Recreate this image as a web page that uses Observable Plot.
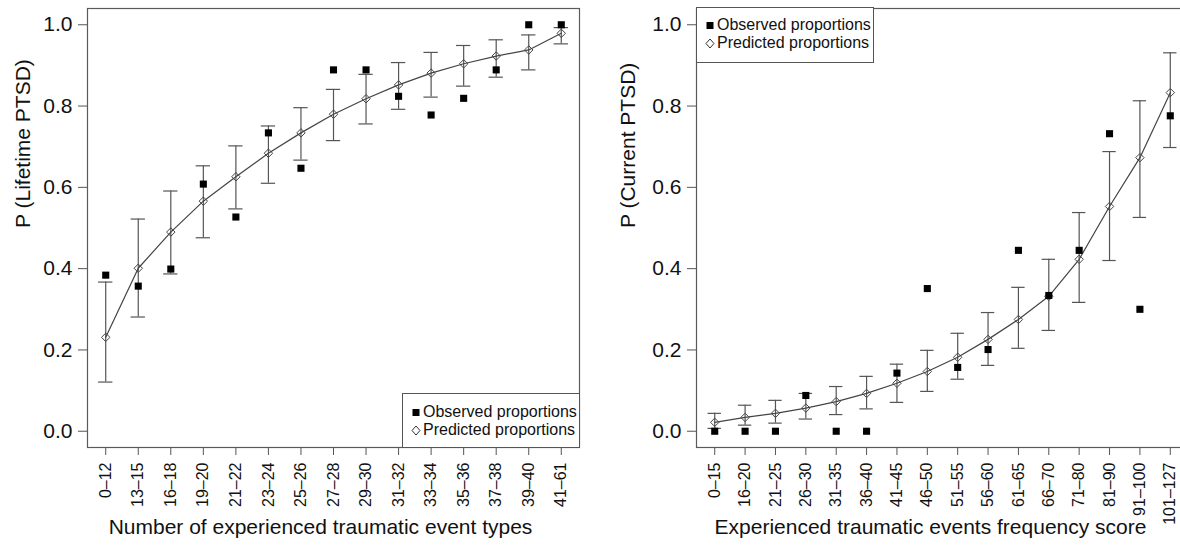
<!DOCTYPE html>
<html><head><meta charset="utf-8">
<script src="https://cdn.jsdelivr.net/npm/d3@7"></script>
<script src="https://cdn.jsdelivr.net/npm/@observablehq/plot@0.6"></script>
<style>
html,body{margin:0;padding:0;background:#fff;overflow:hidden;}
#wrap{position:relative;width:1180px;height:547px;overflow:hidden;font-family:"Liberation Sans",Arial,sans-serif;color:#111;}
.panel{position:absolute;top:0;}
.legend{position:absolute;border:1px solid #555;background:#fff;font-size:16px;box-sizing:border-box;}
.legend .row{position:absolute;left:0;height:18px;line-height:18px;white-space:nowrap;}
.legend svg{position:absolute;top:0;}
.legend span{position:absolute;top:0;}
</style></head><body><div id="wrap"></div>
<script>
// ---- Left panel: lifetime PTSD ----
const lifetimeCategories = ["0–12","13–15","16–18","19–20","21–22","23–24","25–26","27–28","29–30","31–32","33–34","35–36","37–38","39–40","41–61"];
const lifetimePred = [0.231,0.401,0.490,0.566,0.626,0.684,0.734,0.780,0.818,0.852,0.881,0.904,0.923,0.938,0.979];
const lifetimeLo   = [0.121,0.281,0.387,0.476,0.547,0.610,0.667,0.715,0.756,0.792,0.822,0.849,0.871,0.889,0.953];
const lifetimeHi   = [0.367,0.522,0.591,0.653,0.702,0.751,0.796,0.841,0.878,0.907,0.932,0.949,0.963,0.975,0.993];
const lifetimeObs  = [0.384,0.357,0.399,0.608,0.527,0.734,0.647,0.889,0.889,0.824,0.778,0.819,0.889,1.000,1.000];

// ---- Right panel: current PTSD ----
const currentCategories = ["0–15","16–20","21–25","26–30","31–35","36–40","41–45","46–50","51–55","56–60","61–65","66–70","71–80","81–90","91–100","101–127"];
const currentPred = [0.022,0.034,0.044,0.057,0.073,0.093,0.118,0.147,0.182,0.226,0.275,0.332,0.423,0.553,0.673,0.833];
const currentLo   = [0.007,0.015,0.020,0.030,0.041,0.055,0.071,0.098,0.128,0.162,0.204,0.248,0.317,0.420,0.526,0.698];
const currentHi   = [0.044,0.064,0.076,0.093,0.110,0.135,0.165,0.199,0.241,0.292,0.354,0.423,0.538,0.688,0.813,0.931];
const currentObs  = [0.000,0.000,0.000,0.088,0.000,0.000,0.143,0.351,0.157,0.201,0.445,0.334,0.445,0.732,0.300,0.776];

const yTicks = [0, 0.2, 0.4, 0.6, 0.8, 1.0];
const legendLabels = ["Observed proportions", "Predicted proportions"];

function panel({cats, pred, lo, hi, obs, width, marginLeft, marginRight, yLabel, xLabel, yLabelDx, xLabelDx}) {
  const n = cats.length;
  const ext = 0.04 * (n - 1);
  const rows = cats.map((c, k) => ({i: k + 1, c, pred: pred[k], lo: lo[k], hi: hi[k], obs: obs[k]}));
  const cap = 0.22;
  return Plot.plot({
    width, height: 547, marginLeft, marginRight, marginTop: 8, marginBottom: 100,
    style: {fontFamily: '"Liberation Sans", Arial, sans-serif', background: "white", color: "#111", overflow: "visible"},
    x: {type: "linear", domain: [1 - ext, n + ext]},
    y: {domain: [-0.04, 1.04]},
    marks: [
      Plot.frame({stroke: "#5a5a5a", strokeWidth: 1.2}),
      Plot.ruleX(rows, {x: "i", y1: "lo", y2: "hi", stroke: "#555", strokeWidth: 1.2}),
      Plot.ruleY(rows, {y: "hi", x1: d => d.i - cap, x2: d => d.i + cap, stroke: "#555", strokeWidth: 1.2}),
      Plot.ruleY(rows, {y: "lo", x1: d => d.i - cap, x2: d => d.i + cap, stroke: "#555", strokeWidth: 1.2}),
      Plot.line(rows, {x: "i", y: "pred", stroke: "#444", strokeWidth: 1.2}),
      Plot.dot(rows, {x: "i", y: "pred", symbol: "diamond2", r: 3.8, stroke: "#444", strokeWidth: 1, fill: "none"}),
      Plot.dot(rows, {x: "i", y: "obs", symbol: "square", r: 4, fill: "#000", stroke: "none"}),
      Plot.axisX({ticks: d3.range(1, n + 1), tickFormat: i => cats[i - 1], tickRotate: -90, tickSize: 8, tickPadding: 7,
        label: null, fontSize: 16, stroke: "#555", fill: "#111"}),
      Plot.axisY({ticks: yTicks, tickFormat: d3.format(".1f"), tickSize: 9, tickPadding: 6, label: null,
        fontSize: 21, stroke: "#555", fill: "#111"}),
      Plot.text([xLabel], {text: d => d, frameAnchor: "bottom", dy: 86, dx: xLabelDx, fontSize: 21, fill: "#111"}),
      Plot.text([yLabel], {text: d => d, frameAnchor: "left", rotate: -90, dx: yLabelDx, fontSize: 21, fill: "#111"})
    ]
  });
}

const wrap = document.getElementById("wrap");

const left = panel({cats: lifetimeCategories, pred: lifetimePred, lo: lifetimeLo, hi: lifetimeHi, obs: lifetimeObs,
  width: 590, marginLeft: 87, marginRight: 11, yLabel: "P (Lifetime PTSD)", xLabel: "Number of experienced traumatic event types",
  yLabelDx: -64, xLabelDx: -13});
left.classList.add("panel"); left.style.left = "0px";
wrap.appendChild(left);

const right = panel({cats: currentCategories, pred: currentPred, lo: currentLo, hi: currentHi, obs: currentObs,
  width: 610, marginLeft: 106, marginRight: 12, yLabel: "P (Current PTSD)", xLabel: "Experienced traumatic events frequency score",
  yLabelDx: -68, xLabelDx: -12});
right.classList.add("panel"); right.style.left = "590px";
wrap.appendChild(right);

function legend(x, y, w, h, rowTops) {
  const div = document.createElement("div");
  div.className = "legend";
  Object.assign(div.style, {left: x + "px", top: y + "px", width: w + "px", height: h + "px"});
  const svgNS = "http://www.w3.org/2000/svg";
  legendLabels.forEach((lab, k) => {
    const row = document.createElement("div");
    row.className = "row";
    row.style.top = rowTops[k] + "px";
    row.style.width = w + "px";
    const s = document.createElementNS(svgNS, "svg");
    s.setAttribute("width", 14); s.setAttribute("height", 18);
    s.style.left = "6px";
    if (k === 0) {
      const r = document.createElementNS(svgNS, "rect");
      r.setAttribute("x", 3.5); r.setAttribute("y", 6); r.setAttribute("width", 7); r.setAttribute("height", 7); r.setAttribute("fill", "#000");
      s.appendChild(r);
    } else {
      const p = document.createElementNS(svgNS, "path");
      p.setAttribute("d", "M7,5 L11,9.5 L7,14 L3,9.5 Z"); p.setAttribute("fill", "none"); p.setAttribute("stroke", "#333"); p.setAttribute("stroke-width", 1);
      s.appendChild(p);
    }
    row.appendChild(s);
    const t = document.createElement("span");
    t.textContent = lab;
    t.style.left = "20px";
    row.appendChild(t);
    div.appendChild(row);
  });
  wrap.appendChild(div);
}
legend(402, 393, 178, 55, [9, 27]);
legend(696, 7, 178, 56, [8, 26]);
</script>
</body></html>
